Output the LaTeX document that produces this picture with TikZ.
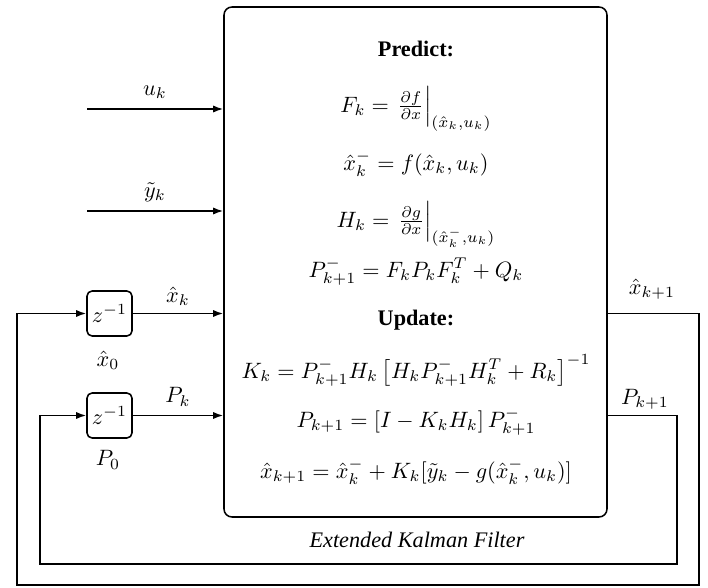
\documentclass[tikz,border=0pt]{standalone}
\usepackage{amsmath}
\usepackage{fontspec}
\setmainfont{Liberation Serif}
\usetikzlibrary{arrows.meta}
\begin{document}
\begin{tikzpicture}[x=0.45pt,y=-0.45pt,
  line width=0.7pt,
  conn/.style={-{Latex[length=4.5pt,width=3.2pt]}},
  zbox/.style={draw,rounded corners=2.3pt,minimum width=20.25pt,minimum height=20.25pt,inner sep=0pt},
  eq/.style={anchor=base,inner sep=0pt},
  lbl/.style={inner sep=0pt}]
\useasboundingbox (0,0) rectangle (708,588);
\node[draw,rounded corners=3.6pt,minimum width=172.35pt,minimum height=229.5pt,inner sep=0pt] (ekf) at (415.5,262) {};
\node[zbox] (zx) at (109.5,313.5) {$z^{-1}$};
\node[zbox] (zp) at (109.5,415.5) {$z^{-1}$};
\coordinate (uin) at (87,109);
\coordinate (yin) at (87,211);
\draw[conn] (uin) -- (uin -| ekf.west);
\draw[conn] (yin) -- (yin -| ekf.west);
\draw[conn] (zx.east) -- (zx.east -| ekf.west);
\draw[conn] (zp.east) -- (zp.east -| ekf.west);
\coordinate (xr) at (699,313.5);
\coordinate (xb) at (699,585);
\coordinate (xl) at (17,585);
\coordinate (pr) at (677,415.5);
\coordinate (pb) at (677,564);
\coordinate (pl) at (40,564);
\draw[conn] (xr -| ekf.east) -- (xr) -- (xb) -- (xl) |- (zx.west);
\draw[conn] (pr -| ekf.east) -- (pr) -- (pb) -- (pl) |- (zp.west);
\node[lbl] (lu) at (155,92) {$u_k$};
\node[lbl] (ly) at (155,192) {$\tilde{y}_k$};
\node[lbl] (lx) at (178,296) {$\hat{x}_k$};
\node[lbl] (lp) at (178,397) {$P_k$};
\node[lbl] (lx0) at (108,360) {$\hat{x}_0$};
\node[lbl] (lp0) at (108,460) {$P_0$};
\node[lbl] (lx1) at (652,289) {$\hat{x}_{k+1}$};
\node[lbl] (lp1) at (645,399) {$P_{k+1}$};
\node[lbl] (cap) at (417,540) {\itshape Extended Kalman Filter};
\node[eq] (t1) at (416,57) {\bfseries Predict:};
\node[eq] (e1) at (416,112) {$F_k = \left.\frac{\partial f}{\partial x}\right|_{(\hat{x}_k,u_k)}$};
\node[eq] (e2) at (416,170) {$\hat{x}^-_k = f(\hat{x}_k,u_k)$};
\node[eq] (e3) at (416,227) {$H_k = \left.\frac{\partial g}{\partial x}\right|_{(\hat{x}^-_k,u_k)}$};
\node[eq] (e4) at (416,277) {$P^-_{k+1} = F_kP_kF^T_k + Q_k$};
\node[eq] (t2) at (416,325) {\bfseries Update:};
\node[eq] (e5) at (416,378) {$K_k = P^-_{k+1}H_k\left[H_kP^-_{k+1}H^T_k + R_k\right]^{-1}$};
\node[eq] (e6) at (416,427) {$P_{k+1} = \left[I - K_kH_k\right]P^-_{k+1}$};
\node[eq] (e7) at (416,478) {$\hat{x}_{k+1} = \hat{x}^-_k + K_k[\tilde{y}_k - g(\hat{x}^-_k,u_k)]$};
\end{tikzpicture}
\end{document}
